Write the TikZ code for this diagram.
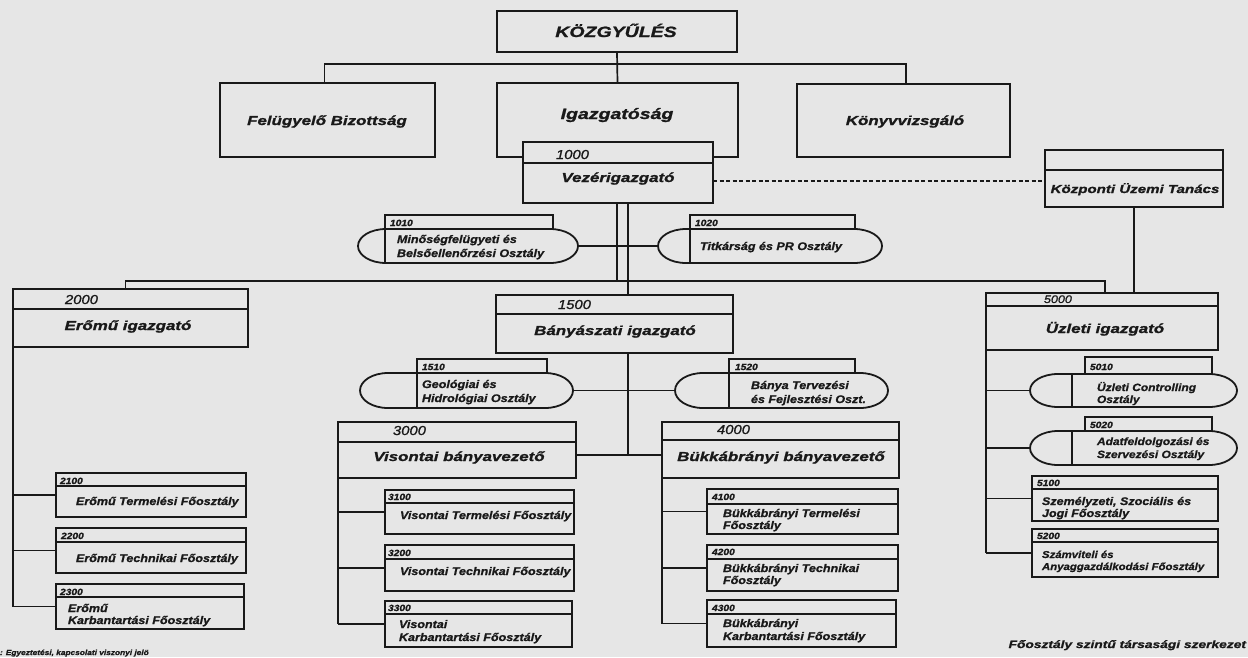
\documentclass[tikz,border=0pt]{standalone}
\usepackage{fontspec}
\usepackage{graphicx}
\setmainfont{Liberation Sans}
\newfontfamily\bigf[FakeStretch=1.3,FakeBold=1.2]{Liberation Sans}
\newfontfamily\smf[FakeStretch=1.14,FakeBold=1]{Liberation Sans}
\definecolor{bg}{RGB}{230,230,230}
\definecolor{ink}{RGB}{25,25,25}
\tikzset{
  bx/.style={draw=ink, line width=2pt, fill=bg, rectangle, inner sep=0pt, outer sep=0pt},
  dbx/.style={bx, line width=2.6pt},
  sbx/.style={bx, line width=1.8pt},
  conn/.style={draw=ink, line width=1.7pt},
  sepl/.style={draw=ink, line width=1.5pt},
  tx/.style={inner sep=0pt, outer sep=0pt, text=ink},
  tTop/.style={tx, anchor=base, font=\bigf\bfseries\itshape\fontsize{15}{15}\selectfont},
  tTopS/.style={tx, anchor=base, font=\bigf\bfseries\itshape\fontsize{13}{13}\selectfont},
  tDir/.style={tx, anchor=base, font=\bigf\bfseries\itshape\fontsize{13}{13}\selectfont},
  tNum/.style={tx, anchor=base west, font=\smf\itshape\fontsize{13}{13}\selectfont},
  tsNum/.style={tx, anchor=base west, font=\smf\bfseries\itshape\fontsize{9}{9}\selectfont},
  tSub/.style={tx, anchor=base west, font=\smf\bfseries\itshape\fontsize{11}{11}\selectfont},
  tOv/.style={tx, anchor=base west, font=\smf\bfseries\itshape\fontsize{10.5}{10.5}\selectfont},
}
% box: [style]{name}{x1}{y1}{x2}{y2}
\newcommand\BX[6][bx]{\node[#1, minimum width={#5-#3}, minimum height={#6-#4}] (#2) at ({(#3+#5)/2},{(#4+#6)/2}) {};}
% separator line inside a box
\newcommand\SEP[2]{\draw[sepl] (#1.west |- 0,#2) -- (#1.east |- 0,#2);}
% oval: name, x1, y1, x2, y2, tab x1, tab x2, tab top, inner line x
\newcommand\OVAL[9]{%
  \pgfmathsetmacro\ovry{(#5-#3)/2}%
  \draw[sbx] (#6,#8) rectangle (#7,#3);
  \draw[sbx] ({#2+28},#3) -- ({#4-28},#3) arc[start angle=90,end angle=-90,x radius=28pt,y radius=\ovry pt] -- ({#2+28},#5) arc[start angle=270,end angle=90,x radius=28pt,y radius=\ovry pt] -- cycle;
  \draw[sepl] (#9,#3) -- (#9,#5);
  \node[inner sep=0pt, outer sep=0pt, minimum width={#4-#2}, minimum height={#5-#3}] (#1) at ({(#2+#4)/2},{(#3+#5)/2}) {};
}
\begin{document}
\begin{tikzpicture}[x=1pt,y=-1pt]
\fill[bg] (0,0) rectangle (1248,657);
\useasboundingbox (0,0) rectangle (1248,657);

% ---------- top level ----------
\BX{kozgy}{497}{11}{737}{52}
\BX{felugy}{220}{83}{435}{157}
\BX{igazg}{497}{83}{738}{157}
\BX{konyv}{797}{84}{1010}{157}
\BX{vezer}{523}{142}{713}{203}
\SEP{vezer}{163}
\BX{kut}{1045}{150}{1223}{207}
\SEP{kut}{170}

\node[tTop] (tkozgy) at (616,37) {KÖZGYŰLÉS};
\node[tTop] (tigazg) at (617,119) {Igazgatóság};
\node[tTopS] (tfelugy) at (327,125) {Felügyelő Bizottság};
\node[tTopS] (tkonyv) at (905,125) {Könyvvizsgáló};
\node[tNum] (n1000) at (556,159) {1000};
\node[tDir] (tvezer) at (618,182) {Vezérigazgató};
\node[tDir, font=\bigf\bfseries\itshape\fontsize{11.6}{11.6}\selectfont] (tkut) at (1135,193) {Központi Üzemi Tanács};

% ---------- staff ovals ----------
\OVAL{o1010}{358}{229}{578}{263}{385}{553}{215}{385}
\OVAL{o1020}{658}{229}{882}{263}{690}{855}{215}{690}
\node[tsNum] (n1010) at (390,226) {1010};
\node[tsNum] (n1020) at (695,226) {1020};
\node[tSub] (t1010a) at (397,243) {Minőségfelügyeti és};
\node[tSub] (t1010b) at (397,257) {Belsőellenőrzési Osztály};
\node[tSub] (t1020) at (700,250) {Titkárság és PR Osztály};

% ---------- directors ----------
\BX[dbx]{erom}{13}{289}{248}{347}
\SEP{erom}{309}
\BX[dbx]{bany}{496}{295}{733}{353}
\SEP{bany}{314}
\BX[dbx]{uzl}{986}{293}{1218}{350}
\SEP{uzl}{306}
\node[tNum] (n2000) at (65,304) {2000};
\node[tDir] (terom) at (128,330) {Erőmű igazgató};
\node[tNum] (n1500) at (558,309) {1500};
\node[tDir] (tbany) at (615,335) {Bányászati igazgató};
\node[tNum, font=\smf\itshape\fontsize{11}{11}\selectfont] (n5000) at (1044,303) {5000};
\node[tDir] (tuzl) at (1105,333) {Üzleti igazgató};

\OVAL{o1510}{360}{373}{573}{408}{417}{547}{359}{417}
\OVAL{o1520}{675}{373}{888}{408}{729}{855}{359}{729}
\node[tsNum] (n1510) at (422,370) {1510};
\node[tsNum] (n1520) at (735,370) {1520};
\node[tSub] (t1510a) at (422,388) {Geológiai és};
\node[tSub] (t1510b) at (422,402) {Hidrológiai Osztály};
\node[tSub] (t1520a) at (751,389) {Bánya Tervezési};
\node[tSub] (t1520b) at (751,403) {és Fejlesztési Oszt.};

\BX[dbx]{vis}{338}{422}{576}{478}
\SEP{vis}{442}
\BX[dbx]{bukk}{662}{422}{899}{478}
\SEP{bukk}{440}
\node[tNum] (n3000) at (393,435) {3000};
\node[tDir] (tvis) at (459,461) {Visontai bányavezető};
\node[tNum] (n4000) at (717,434) {4000};
\node[tDir] (tbukk) at (781,461) {Bükkábrányi bányavezető};

% ---------- Erőmű subtree ----------
\BX[sbx]{e2100}{56}{473}{246}{517}
\SEP{e2100}{486}
\BX[sbx]{e2200}{56}{528}{246}{573}
\SEP{e2200}{542}
\BX[sbx]{e2300}{56}{584}{244}{629}
\SEP{e2300}{597}
\node[tsNum] (n2100) at (60,484) {2100};
\node[tsNum] (n2200) at (61,539) {2200};
\node[tsNum] (n2300) at (60,595) {2300};
\node[tSub] (t2100) at (76,505) {Erőmű Termelési Főosztály};
\node[tSub] (t2200) at (76,562) {Erőmű Technikai Főosztály};
\node[tSub] (t2300a) at (68,612) {Erőmű};
\node[tSub] (t2300b) at (68,624) {Karbantartási Főosztály};

% ---------- Visonta subtree ----------
\BX[sbx]{v3100}{385}{490}{574}{534}
\SEP{v3100}{503}
\BX[sbx]{v3200}{385}{545}{574}{591}
\SEP{v3200}{559}
\BX[sbx]{v3300}{385}{601}{572}{647}
\SEP{v3300}{614}
\node[tsNum] (n3100) at (388,500) {3100};
\node[tsNum] (n3200) at (388,556) {3200};
\node[tsNum] (n3300) at (388,611) {3300};
\node[tSub] (t3100) at (400,519) {Visontai Termelési Főosztály};
\node[tSub] (t3200) at (400,575) {Visontai Technikai Főosztály};
\node[tSub] (t3300a) at (399,628) {Visontai};
\node[tSub] (t3300b) at (399,641) {Karbantartási Főosztály};

% ---------- Bükkábrány subtree ----------
\BX[sbx]{b4100}{707}{489}{898}{534}
\SEP{b4100}{504}
\BX[sbx]{b4200}{707}{545}{898}{591}
\SEP{b4200}{559}
\BX[sbx]{b4300}{707}{600}{896}{647}
\SEP{b4300}{614}
\node[tsNum] (n4100) at (712,500) {4100};
\node[tsNum] (n4200) at (712,555) {4200};
\node[tsNum] (n4300) at (712,611) {4300};
\node[tSub] (t4100a) at (723,517) {Bükkábrányi Termelési};
\node[tSub] (t4100b) at (723,529) {Főosztály};
\node[tSub] (t4200a) at (723,572) {Bükkábrányi Technikai};
\node[tSub] (t4200b) at (723,584) {Főosztály};
\node[tSub] (t4300a) at (723,627) {Bükkábrányi};
\node[tSub] (t4300b) at (723,640) {Karbantartási Főosztály};

% ---------- Üzleti subtree ----------
\OVAL{o5010}{1030}{374}{1237}{407}{1085}{1212}{357}{1072}
\OVAL{o5020}{1030}{431}{1237}{465}{1085}{1212}{417}{1072}
\node[tsNum] (n5010) at (1090,370) {5010};
\node[tsNum] (n5020) at (1090,428) {5020};
\node[tOv] (t5010a) at (1097,391) {Üzleti Controlling};
\node[tOv] (t5010b) at (1097,403) {Osztály};
\node[tOv] (t5020a) at (1097,445) {Adatfeldolgozási és};
\node[tOv] (t5020b) at (1097,458) {Szervezési Osztály};
\BX[sbx]{u5100}{1032}{476}{1218}{521}
\SEP{u5100}{489}
\BX[sbx]{u5200}{1032}{529}{1218}{577}
\SEP{u5200}{542}
\node[tsNum] (n5100) at (1037,486) {5100};
\node[tsNum] (n5200) at (1037,539) {5200};
\node[tSub] (t5100a) at (1042,505) {Személyzeti, Szociális és};
\node[tSub] (t5100b) at (1042,517) {Jogi Főosztály};
\node[tSub, font=\smf\bfseries\itshape\fontsize{10}{10}\selectfont] (t5200a) at (1042,558) {Számviteli és};
\node[tSub, font=\smf\bfseries\itshape\fontsize{10}{10}\selectfont] (t5200b) at (1042,570) {Anyaggazdálkodási Főosztály};

% ---------- connectors ----------
\coordinate (busA) at (617,64);
\coordinate (busB) at (617,281);
\coordinate (busC) at (628,455);
\draw[conn] (kozgy.south) -- (igazg.north);
\draw[conn] ([xshift=-3pt]felugy.north) |- (busA) -| ([xshift=2.5pt]konyv.north);
\draw[conn] (vezer.south -| busB) -- (busB);
\draw[conn] ([xshift=-5pt]erom.north) |- (busB) -| ([xshift=3pt]uzl.north);
\draw[conn] (vezer.south -| busC) -- (bany.north -| busC);
\draw[conn] (bany.south -| busC) -- (busC);
\draw[conn] (vis.east |- busC) -- (bukk.west |- busC);
\draw[conn] (o1010.east) -- (o1020.west);
\draw[conn] (o1510.east) -- (o1520.west);
\draw[conn, line width=1.5pt, dash pattern=on 4pt off 2.5pt] ([yshift=-2.5pt]kut.west -| vezer.east) -- ([yshift=-2.5pt]kut.west);
\draw[conn] (kut.south) -- (kut.south |- uzl.north);

\draw[conn] (erom.south west) -- (erom.south west |- e2300.west);
\foreach \n in {e2100,e2200,e2300} \draw[conn] (erom.south west |- \n.west) -- (\n.west);
\draw[conn] (vis.south west) -- (vis.south west |- v3300.west);
\foreach \n in {v3100,v3200,v3300} \draw[conn] (vis.south west |- \n.west) -- (\n.west);
\draw[conn] (bukk.south west) -- (bukk.south west |- b4300.west);
\foreach \n in {b4100,b4200,b4300} \draw[conn] (bukk.south west |- \n.west) -- (\n.west);
\draw[conn] (uzl.south west) -- (uzl.south west |- u5200.west);
\foreach \n in {o5010,o5020,u5100,u5200} \draw[conn] (uzl.south west |- \n.west) -- (\n.west);

% ---------- captions ----------
\node[tx, anchor=base east, font=\bigf\bfseries\itshape\fontsize{10.6}{10.6}\selectfont] (capt) at (1246,648) {Főosztály szintű társasági szerkezet};
\node[tx, anchor=base west, font=\smf\bfseries\itshape\fontsize{7.3}{7.3}\selectfont] (legend) at (0,655) {: Egyeztetési, kapcsolati viszonyi jelö};
\end{tikzpicture}
\end{document}
